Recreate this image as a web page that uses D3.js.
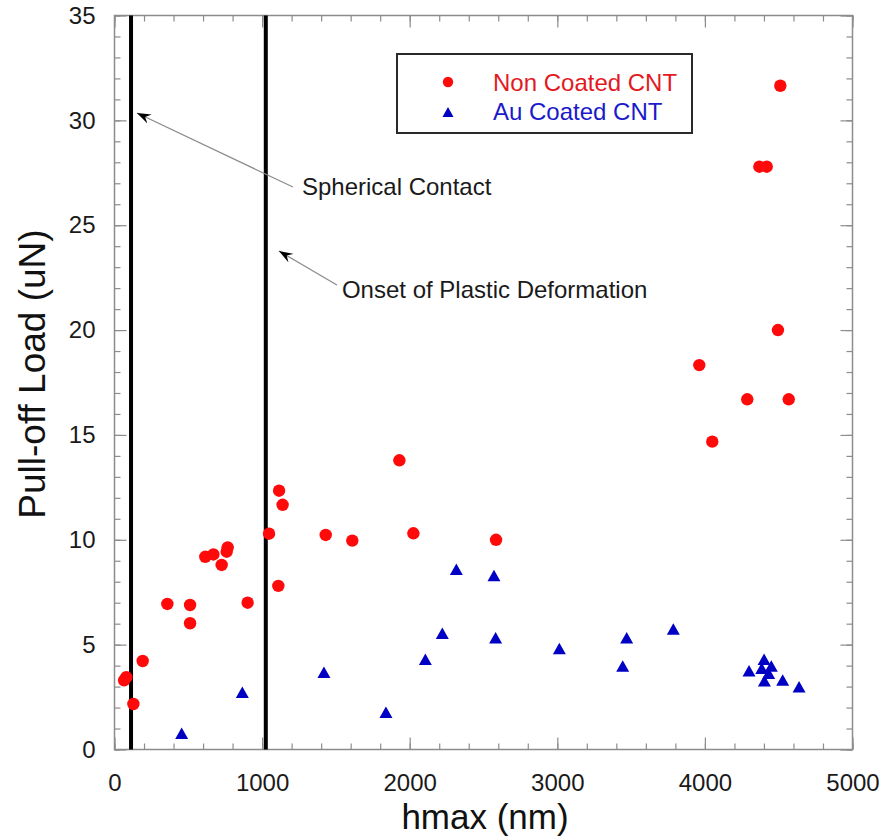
<!DOCTYPE html>
<html>
<head>
<meta charset="utf-8">
<script src="https://cdn.jsdelivr.net/npm/d3@7"></script>
<style>
  html, body { margin: 0; padding: 0; background: #fff; }
  svg { display: block; font-family: "Liberation Sans", Arial, Helvetica, sans-serif; }
</style>
</head>
<body>
<svg id="chart" width="883" height="839"></svg>
<script>
// Pull-off load vs. maximum indentation depth
const nonCoatedX = [65, 80, 128, 191, 358, 512, 512, 615, 670, 726, 760, 767, 902, 1047, 1110, 1115, 1139, 1431, 1611, 1930, 2025, 2585, 3962, 4050, 4287, 4369, 4419, 4495, 4511, 4568];
const nonCoatedY = [3.3, 3.45, 2.17, 4.22, 6.94, 6.89, 6.02, 9.19, 9.3, 8.8, 9.43, 9.64, 7.0, 10.29, 7.8, 12.34, 11.67, 10.23, 9.96, 13.79, 10.31, 10.0, 18.33, 14.68, 16.7, 27.79, 27.79, 20.0, 31.65, 16.7];

const auCoatedX = [455, 866, 1419, 1839, 2106, 2221, 2316, 2571, 2582, 3014, 3443, 3470, 3786, 4299, 4385, 4401, 4403, 4432, 4450, 4527, 4638];
const auCoatedY = [0.77, 2.73, 3.68, 1.78, 4.3, 5.54, 8.59, 8.3, 5.33, 4.82, 3.98, 5.33, 5.74, 3.76, 3.87, 4.3, 3.28, 3.63, 3.98, 3.31, 2.99];

// vertical regime boundaries (nm)
const regimeLines = [112, 1025];

const seriesNames = ["Non Coated CNT", "Au Coated CNT"];
const xTickValues = [0, 1000, 2000, 3000, 4000, 5000];
const yTickValues = [0, 5, 10, 15, 20, 25, 30, 35];

// annotations: text with an arrow pointing to a line
const annotationText = ["Spherical Contact", "Onset of Plastic Deformation"];
const annotationTip = [[152, 30.35], [1114, 23.77]];
const annotationTail = [[1209, 26.82], [1507, 22.15]];
const annotationAnchor = [[1270, 26.45], [1541, 21.55]];

const margin = { left: 114.5, top: 15.5, right: 30.5, bottom: 89.5 };
const W = 883, H = 839;
const pw = W - margin.left - margin.right;
const ph = H - margin.top - margin.bottom;

const svg = d3.select("#chart");
const defs = svg.append("defs");
defs.append("marker")
  .attr("id", "arrowhead")
  .attr("viewBox", "0 0 14 10")
  .attr("refX", 14).attr("refY", 5)
  .attr("markerWidth", 14).attr("markerHeight", 10)
  .attr("markerUnits", "userSpaceOnUse")
  .attr("orient", "auto")
  .append("path")
  .attr("d", "M14,5 L0,0 L5,5 L0,10 Z")
  .attr("fill", "#000");

const g = svg.append("g").attr("transform", `translate(${margin.left},${margin.top})`);

const x = d3.scaleLinear().domain([0, 5000]).range([0, pw]);
const y = d3.scaleLinear().domain([0, 35]).range([ph, 0]);

const frameColor = "#8c8c8c";

// minor + major ticks on all four sides, pointing inward
function tickAxis(makeAxis, transform, minorVals, majorVals) {
  const minor = g.append("g").attr("transform", transform)
    .call(makeAxis().tickValues(minorVals).tickSize(6).tickFormat(""));
  const major = g.append("g").attr("transform", transform)
    .call(makeAxis().tickValues(majorVals).tickSize(12).tickFormat(""));
  [minor, major].forEach(s => {
    s.select(".domain").remove();
    s.selectAll("line").attr("stroke", frameColor).attr("stroke-width", 1.2);
  });
}
const xMinor = d3.range(0, 5001, 200);
const yMinor = d3.range(0, 36, 1);
tickAxis(() => d3.axisTop(x), `translate(0,${ph})`, xMinor, xTickValues);
tickAxis(() => d3.axisBottom(x), `translate(0,0)`, xMinor, xTickValues);
tickAxis(() => d3.axisRight(y), `translate(0,0)`, yMinor, yTickValues);
tickAxis(() => d3.axisLeft(y), `translate(${pw},0)`, yMinor, yTickValues);

// frame
g.append("rect")
  .attr("x", 0).attr("y", 0).attr("width", pw).attr("height", ph)
  .attr("fill", "none").attr("stroke", frameColor).attr("stroke-width", 1.5);

// tick labels
const xLab = g.append("g").attr("transform", `translate(0,${ph})`)
  .call(d3.axisBottom(x).tickValues(xTickValues).tickSize(0).tickPadding(24).tickFormat(d3.format("d")));
xLab.select(".domain").remove();
xLab.selectAll("text").attr("font-size", 24).attr("fill", "#1a1a1a")
  .attr("font-family", "Liberation Sans, Arial, sans-serif");

const yLab = g.append("g")
  .call(d3.axisLeft(y).tickValues(yTickValues).tickSize(0).tickPadding(19).tickFormat(d3.format("d")));
yLab.select(".domain").remove();
yLab.selectAll("text").attr("font-size", 24).attr("fill", "#1a1a1a")
  .attr("font-family", "Liberation Sans, Arial, sans-serif");

// axis titles
svg.append("text")
  .attr("x", 485).attr("y", 829)
  .attr("text-anchor", "middle").attr("font-size", 35).attr("fill", "#111")
  .text("hmax (nm)");
svg.append("text")
  .attr("transform", `translate(45,374) rotate(-90)`)
  .attr("text-anchor", "middle").attr("font-size", 37).attr("fill", "#111")
  .text("Pull-off Load (uN)");

// regime boundary lines
g.selectAll("line.regime").data(regimeLines).enter().append("line")
  .attr("class", "regime")
  .attr("x1", d => x(d)).attr("x2", d => x(d))
  .attr("y1", y(35)).attr("y2", y(0))
  .attr("stroke", "#000").attr("stroke-width", 4);

// annotations
annotationText.forEach((t, i) => {
  g.append("line")
    .attr("x1", x(annotationTail[i][0])).attr("y1", y(annotationTail[i][1]))
    .attr("x2", x(annotationTip[i][0])).attr("y2", y(annotationTip[i][1]))
    .attr("stroke", "#8a8a8a").attr("stroke-width", 1.2)
    .attr("marker-end", "url(#arrowhead)");
  g.append("text")
    .attr("x", x(annotationAnchor[i][0])).attr("y", y(annotationAnchor[i][1]))
    .attr("font-size", 24).attr("fill", "#1a1a1a")
    .text(t);
});

const redColor = "#ff0a0a";
const blueColor = "#0000c4";

// triangle drawn around its bounding-box centre
function triPath(cx, cy, w, h) {
  return `M${cx},${cy - h / 2} L${cx + w / 2},${cy + h / 2} L${cx - w / 2},${cy + h / 2} Z`;
}

// Non coated: circles
g.selectAll("circle.nc").data(d3.zip(nonCoatedX, nonCoatedY)).enter().append("circle")
  .attr("class", "nc")
  .attr("cx", d => x(d[0])).attr("cy", d => y(d[1]))
  .attr("r", 6.2).attr("fill", redColor);

// Au coated: triangles
g.selectAll("path.au").data(d3.zip(auCoatedX, auCoatedY)).enter().append("path")
  .attr("class", "au")
  .attr("d", d => triPath(x(d[0]), y(d[1]), 13, 11.5))
  .attr("fill", blueColor);

// legend
const leg = svg.append("g");
leg.append("rect")
  .attr("x", 397).attr("y", 54).attr("width", 295).attr("height", 79)
  .attr("fill", "#fff").attr("stroke", "#2a2a2a").attr("stroke-width", 2);
leg.append("circle").attr("cx", 448).attr("cy", 82).attr("r", 5.2).attr("fill", redColor);
leg.append("path").attr("d", triPath(448, 112, 11, 10)).attr("fill", blueColor);
leg.append("text").attr("x", 493).attr("y", 91).attr("font-size", 24)
  .attr("fill", "#e3191f").text(seriesNames[0]);
leg.append("text").attr("x", 493).attr("y", 120).attr("font-size", 24)
  .attr("fill", "#1a1acc").text(seriesNames[1]);
</script>
</body>
</html>
